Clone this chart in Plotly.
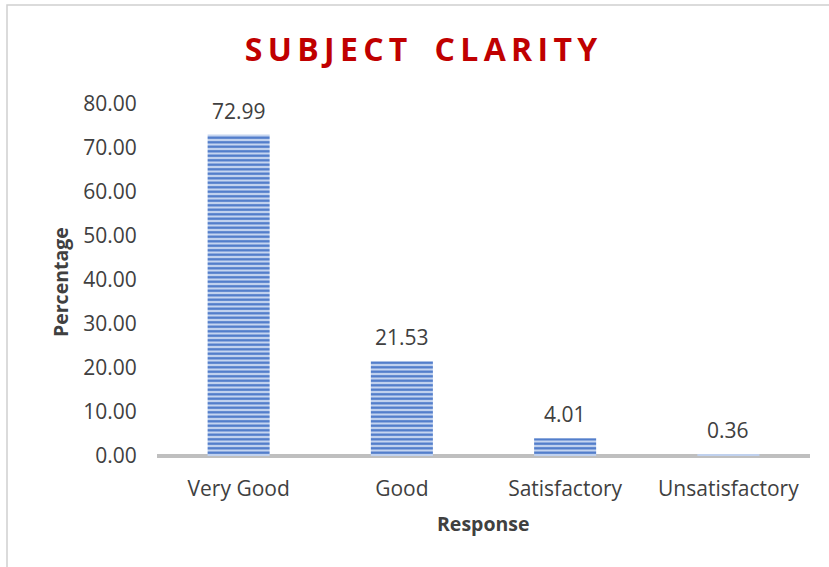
import plotly.graph_objects as go

categories = ["Very Good", "Good", "Satisfactory", "Unsatisfactory"]
values = [72.99, 21.53, 4.01, 0.36]
tick_vals = [0, 10, 20, 30, 40, 50, 60, 70, 80]
tick_text = ["%.2f" % v for v in tick_vals]

FONT = "Open Sans"
TXT = "#404040"
W, H = 829, 567
L, R, T, B = 157, 19, 104, 111
pw, ph = W - L - R, H - T - B


def px_x(x):
    return (x - L) / pw


def px_y(y):
    return (H - B - y) / ph


thin = "\u2009"
title_text = thin.join("SUBJECT") + thin + "  " + thin + thin.join("CLARITY")

fig = go.Figure(go.Bar(
    x=categories, y=values,
    hoverinfo="skip",
    marker=dict(
        color="#A9C1EA",
        line=dict(width=0),
        pattern=dict(shape="-", fgcolor="#4A77C8", bgcolor="#C5D5F0",
                     size=4.5, solidity=0.5, fillmode="replace"),
    ),
))

annotations = [
    dict(x=c, y=v, xref="x", yref="y", text="%.2f" % v, showarrow=False,
         xanchor="center", yanchor="bottom", yshift=8,
         font=dict(family=FONT, size=21, color=TXT))
    for c, v in zip(categories, values)
]
annotations += [
    dict(text="<b>Percentage</b>", textangle=-90, x=px_x(60), y=px_y(282),
         xref="paper", yref="paper", xanchor="center", yanchor="middle", showarrow=False,
         font=dict(family=FONT, size=19.5, color=TXT)),
    dict(text="<b>Response</b>", x=px_x(484), y=px_y(523),
         xref="paper", yref="paper", xanchor="center", yanchor="middle", showarrow=False,
         font=dict(family=FONT, size=19.5, color=TXT)),
]

fig.update_layout(
    width=W, height=H,
    margin=dict(l=L, r=R, t=T, b=B),
    paper_bgcolor="white", plot_bgcolor="white",
    bargap=0.62,
    showlegend=False,
    title=dict(text=title_text, x=421 / W, xref="container", xanchor="center",
               y=1 - 50 / H, yref="container", yanchor="middle",
               font=dict(family=FONT, size=32, color="#C00000", weight="bold")),
    xaxis=dict(showgrid=False, showline=False, zeroline=False,
               tickfont=dict(family=FONT, size=21, color=TXT),
               ticks="outside", tickcolor="rgba(0,0,0,0)", ticklen=14),
    yaxis=dict(range=[0, 80], tickvals=tick_vals, ticktext=tick_text,
               showgrid=False, showline=False, zeroline=True,
               zerolinecolor="#BFBFBF", zerolinewidth=3.5,
               tickfont=dict(family=FONT, size=21, color=TXT),
               ticks="outside", tickcolor="rgba(0,0,0,0)", ticklen=15),
    annotations=annotations,
)

fig.add_shape(type="rect", xref="paper", yref="paper",
              x0=px_x(7), x1=px_x(845), y0=px_y(585), y1=px_y(5),
              line=dict(color="#D0D0D0", width=1.5), fillcolor="rgba(0,0,0,0)", layer="below")

fig.write_html("out.html", config={"displayModeBar": False},
               post_script="document.body.style.margin='0';")
